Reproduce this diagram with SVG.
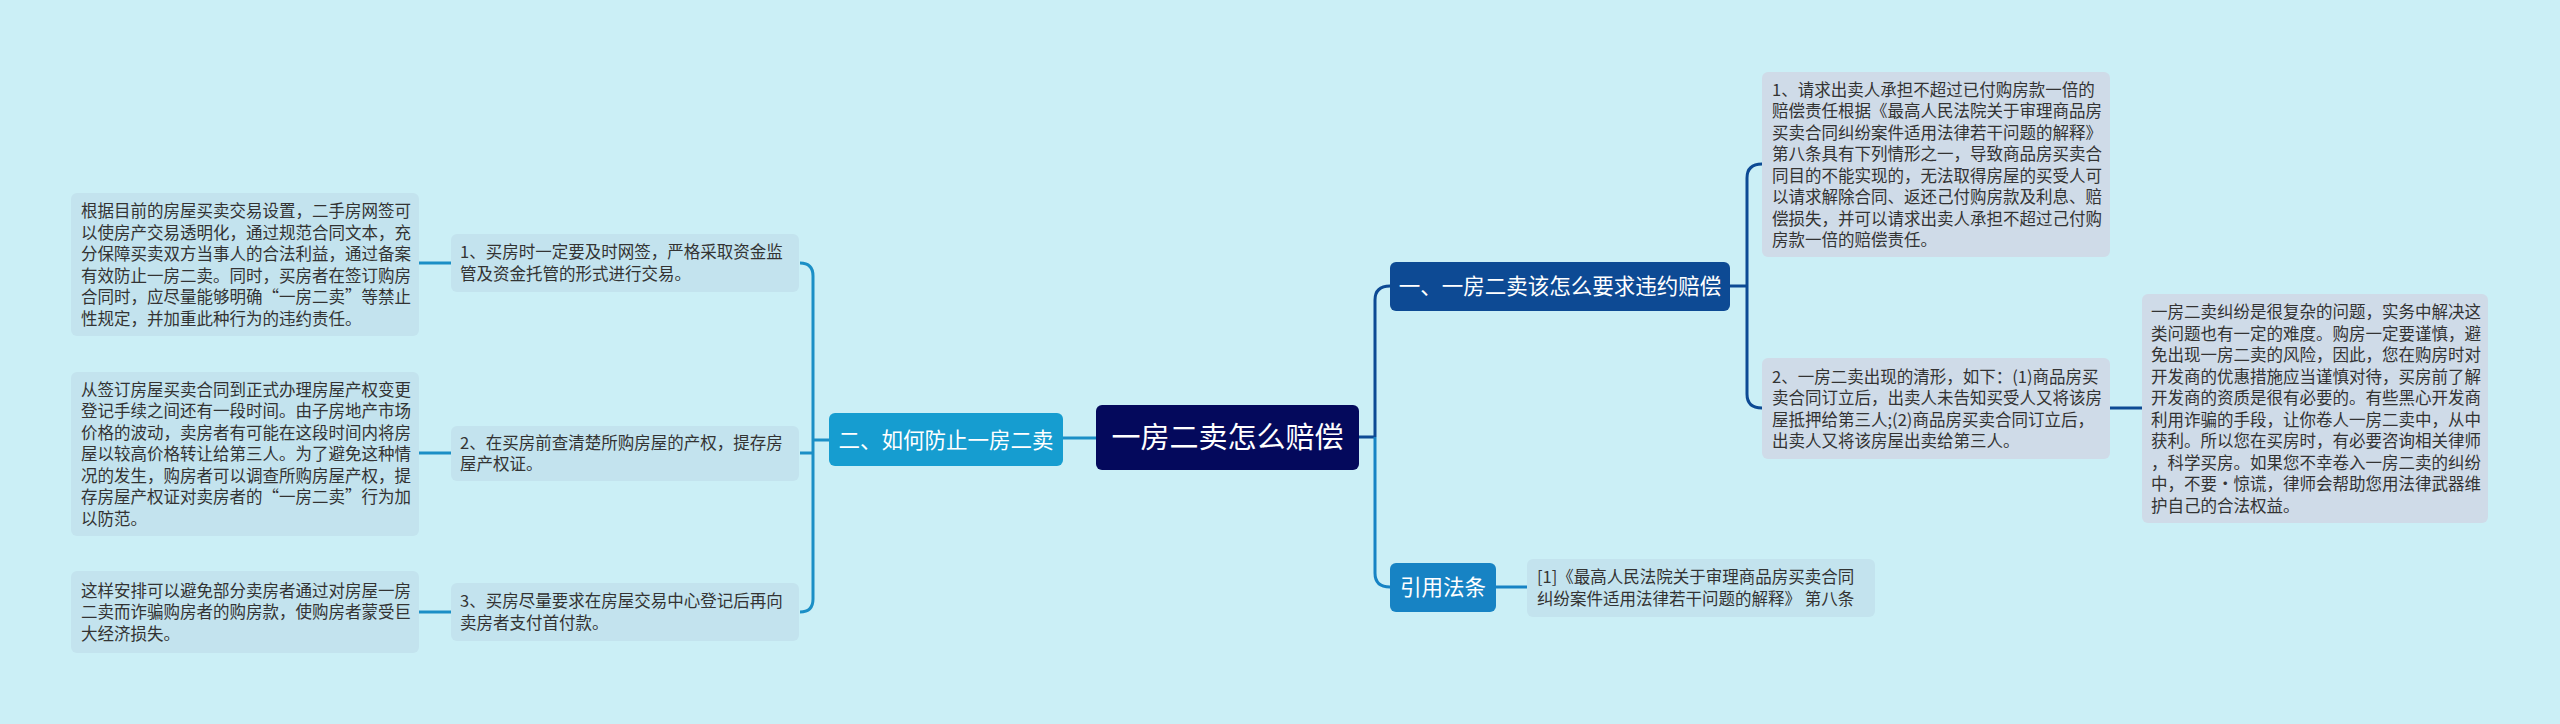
<svg xmlns="http://www.w3.org/2000/svg" width="2560" height="724" viewBox="0 0 2560 724">
<style>
.bg{fill:#cbeff6}
.leafL{fill:#c3e3ee}
.leafR{fill:#cfdbe8}
.t{font-family:"Noto Sans CJK SC","Noto Sans",sans-serif;font-size:16.5px;fill:#333333}
.w{font-family:"Noto Sans CJK SC","Noto Sans",sans-serif;fill:#ffffff}
.cl{fill:none;stroke:#1b8fc6;stroke-width:3}
.cd{fill:none;stroke:#0d4a94;stroke-width:3}
.cm{fill:none;stroke:#1783c4;stroke-width:3}
</style>
<rect class="bg" x="0" y="0" width="2560" height="724"/>
<g id="connectors">
<path class="cl" d="M1096 438 H1063"/>
<path class="cl" d="M829 440 H813"/>
<path class="cl" d="M800 263 Q813 263 813 276 V599 Q813 612 800 612"/>
<path class="cl" d="M813 453 H800"/>
<path class="cl" d="M451 263 H419"/>
<path class="cl" d="M451 453 H419"/>
<path class="cl" d="M451 612 H419"/>
<path class="cd" d="M1359 437 H1375 M1390 286 Q1375 286 1375 300 V437"/>
<path class="cm" d="M1375 437 V573 Q1375 587 1390 587"/>
<path class="cm" d="M1496 587 H1527"/>
<path class="cd" d="M1730 286 H1747"/>
<path class="cd" d="M1762 164 Q1747 164 1747 178 V394 Q1747 408 1762 408"/>
<path class="cd" d="M2110 408 H2142"/>
</g>
<g id="root">
<rect x="1096" y="405" width="263" height="65" rx="6" fill="#04095c"/>
<text class="w" x="1227.5" y="448" font-size="29" text-anchor="middle">一房二卖怎么赔偿</text>
</g>
<g id="n-left">
<rect x="829" y="413" width="234" height="53" rx="6" fill="#169dd0"/>
<text class="w" x="946" y="447.5" font-size="21.5" text-anchor="middle">二、如何防止一房二卖</text>
</g>
<g id="n-r1">
<rect x="1390" y="262" width="340" height="49" rx="6" fill="#0d4a94"/>
<text class="w" x="1560" y="294" font-size="21.5" text-anchor="middle">一、一房二卖该怎么要求违约赔偿</text>
</g>
<g id="n-r2">
<rect x="1390" y="563" width="106" height="49" rx="6" fill="#1783c4"/>
<text class="w" x="1443" y="595" font-size="21.5" text-anchor="middle">引用法条</text>
</g>
<g id="l1">
<rect class="leafL" x="451" y="234" width="348" height="58" rx="6"/>
<text class="t" x="460" y="258"><tspan x="460">1、买房时一定要及时网签，严格采取资金监</tspan><tspan x="460" dy="21.5">管及资金托管的形式进行交易。</tspan></text>
</g>
<g id="l2">
<rect class="leafL" x="451" y="426" width="348" height="55" rx="6"/>
<text class="t" x="460" y="448.5"><tspan x="460">2、在买房前查清楚所购房屋的产权，提存房</tspan><tspan x="460" dy="21.5">屋产权证。</tspan></text>
</g>
<g id="l3">
<rect class="leafL" x="451" y="583" width="348" height="58" rx="6"/>
<text class="t" x="460" y="607"><tspan x="460">3、买房尽量要求在房屋交易中心登记后再向</tspan><tspan x="460" dy="21.5">卖房者支付首付款。</tspan></text>
</g>
<g id="l1c">
<rect class="leafL" x="71" y="193" width="348" height="143" rx="6"/>
<text class="t" x="81" y="217"><tspan x="81">根据目前的房屋买卖交易设置，二手房网签可</tspan><tspan x="81" dy="21.5">以使房产交易透明化，通过规范合同文本，充</tspan><tspan x="81" dy="21.5">分保障买卖双方当事人的合法利益，通过备案</tspan><tspan x="81" dy="21.5">有效防止一房二卖。同时，买房者在签订购房</tspan><tspan x="81" dy="21.5">合同时，应尽量能够明确“一房二卖”等禁止</tspan><tspan x="81" dy="21.5">性规定，并加重此种行为的违约责任。</tspan></text>
</g>
<g id="l2c">
<rect class="leafL" x="71" y="372" width="348" height="164" rx="6"/>
<text class="t" x="81" y="395.5"><tspan x="81">从签订房屋买卖合同到正式办理房屋产权变更</tspan><tspan x="81" dy="21.5">登记手续之间还有一段时间。由子房地产市场</tspan><tspan x="81" dy="21.5">价格的波动，卖房者有可能在这段时间内将房</tspan><tspan x="81" dy="21.5">屋以较高价格转让给第三人。为了避免这种情</tspan><tspan x="81" dy="21.5">况的发生，购房者可以调查所购房屋产权，提</tspan><tspan x="81" dy="21.5">存房屋产权证对卖房者的“一房二卖”行为加</tspan><tspan x="81" dy="21.5">以防范。</tspan></text>
</g>
<g id="l3c">
<rect class="leafL" x="71" y="571" width="348" height="82" rx="6"/>
<text class="t" x="81" y="596.5"><tspan x="81">这样安排可以避免部分卖房者通过对房屋一房</tspan><tspan x="81" dy="21.5">二卖而诈骗购房者的购房款，使购房者蒙受巨</tspan><tspan x="81" dy="21.5">大经济损失。</tspan></text>
</g>
<g id="r1a">
<rect class="leafR" x="1762" y="72" width="348" height="185" rx="6"/>
<text class="t" x="1772" y="95.5"><tspan x="1772">1、请求出卖人承担不超过已付购房款一倍的</tspan><tspan x="1772" dy="21.5">赔偿责任根据《最高人民法院关于审理商品房</tspan><tspan x="1772" dy="21.5">买卖合同纠纷案件适用法律若干问题的解释》</tspan><tspan x="1772" dy="21.5">第八条具有下列情形之一，导致商品房买卖合</tspan><tspan x="1772" dy="21.5">同目的不能实现的，无法取得房屋的买受人可</tspan><tspan x="1772" dy="21.5">以请求解除合同、返还己付购房款及利息、赔</tspan><tspan x="1772" dy="21.5">偿损失，并可以请求出卖人承担不超过己付购</tspan><tspan x="1772" dy="21.5">房款一倍的赔偿责任。</tspan></text>
</g>
<g id="r1b">
<rect class="leafR" x="1762" y="358" width="348" height="101" rx="6"/>
<text class="t" x="1772" y="382.5"><tspan x="1772">2、一房二卖出现的清形，如下：(1)商品房买</tspan><tspan x="1772" dy="21.5">卖合同订立后，出卖人未告知买受人又将该房</tspan><tspan x="1772" dy="21.5">屋抵押给第三人;(2)商品房买卖合同订立后，</tspan><tspan x="1772" dy="21.5">出卖人又将该房屋出卖给第三人。</tspan></text>
</g>
<g id="r1b-c">
<rect class="leafR" x="2142" y="294" width="346" height="229" rx="6"/>
<text class="t" x="2151" y="318"><tspan x="2151">一房二卖纠纷是很复杂的问题，实务中解决这</tspan><tspan x="2151" dy="21.5">类问题也有一定的难度。购房一定要谨慎，避</tspan><tspan x="2151" dy="21.5">免出现一房二卖的风险，因此，您在购房时对</tspan><tspan x="2151" dy="21.5">开发商的优惠措施应当谨慎对待，买房前了解</tspan><tspan x="2151" dy="21.5">开发商的资质是很有必要的。有些黑心开发商</tspan><tspan x="2151" dy="21.5">利用诈骗的手段，让你卷人一房二卖中，从中</tspan><tspan x="2151" dy="21.5">获利。所以您在买房时，有必要咨询相关律师</tspan><tspan x="2151" dy="21.5">，科学买房。如果您不幸卷入一房二卖的纠纷</tspan><tspan x="2151" dy="21.5">中，不要·惊谎，律师会帮助您用法律武器维</tspan><tspan x="2151" dy="21.5">护自己的合法权益。</tspan></text>
</g>
<g id="r2a">
<rect class="leafL" x="1527" y="559" width="348" height="58" rx="6"/>
<text class="t" x="1537" y="583"><tspan x="1537">[1]《最高人民法院关于审理商品房买卖合同</tspan><tspan x="1537" dy="21.5">纠纷案件适用法律若干问题的解释》 第八条</tspan></text>
</g>
</svg>
